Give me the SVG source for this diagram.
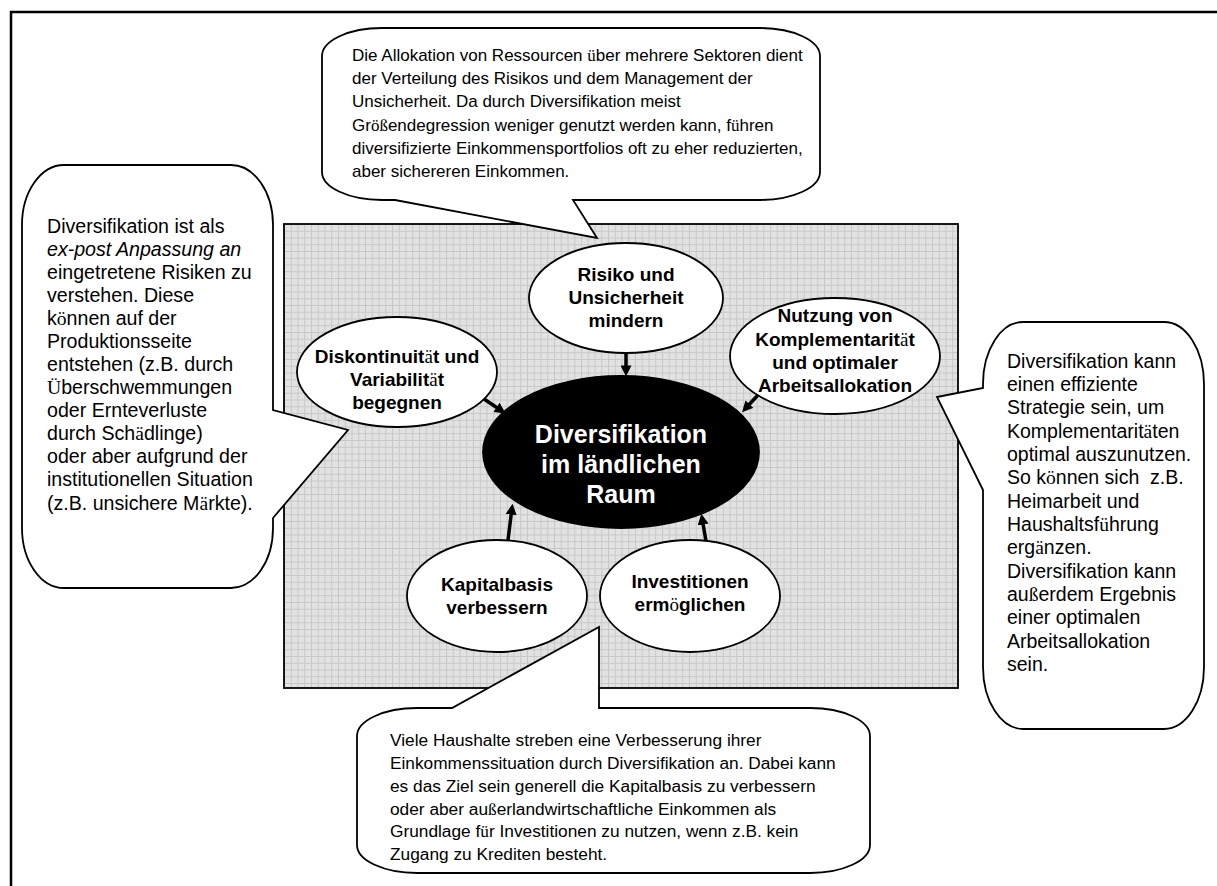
<svg xmlns="http://www.w3.org/2000/svg" width="1217" height="886" viewBox="0 0 1217 886">
<style>
.frame{fill:none;stroke:#000;stroke-width:2.5}
.callout{fill:#fff;stroke:#000;stroke-width:1.8}
.node{fill:#fff;stroke:#000;stroke-width:1.8}
.t{font-family:"Liberation Sans",Arial,sans-serif;fill:#000}
.lbl{font-family:"Liberation Sans",Arial,sans-serif;font-weight:bold;font-size:19px;text-anchor:middle;fill:#000}
.title{font-family:"Liberation Sans",Arial,sans-serif;font-weight:bold;font-size:25px;text-anchor:middle;fill:#fff}
.u{font-family:"Liberation Serif","Times New Roman",serif;font-weight:normal;font-style:normal}
.conn line{stroke:#000;stroke-width:3.5;marker-end:url(#ah)}
</style>
<defs>
<pattern id="grid" x="284" y="224" width="6.75" height="6.75" patternUnits="userSpaceOnUse">
<rect width="6.75" height="6.75" fill="#e2e2e2"/>
<path d="M0,0.5H6.75M0.5,0V6.75" stroke="#c8c8c8" stroke-width="1" fill="none"/>
</pattern>
<marker id="ah" viewBox="0 0 10 10" refX="6" refY="5" markerWidth="11" markerHeight="11" markerUnits="userSpaceOnUse" orient="auto">
<path d="M0,0L10,5L0,10z" fill="#000"/>
</marker>
</defs>
<rect width="1217" height="886" fill="#fff"/>
<path class="frame" d="M11,886V12H1217"/>
<g id="panel"><rect x="284" y="224" width="674" height="464" fill="url(#grid)" stroke="#000" stroke-width="1.8"/></g>

<g id="callout-top">
<path class="callout" d="M382,28H760A60,28 0 0 1 820,56V172A60,28 0 0 1 760,200H573L597,238L395,200H382A60,28 0 0 1 322,172V56A60,28 0 0 1 382,28Z"/>
<text class="t" font-size="17">
<tspan x="352" y="61">Die Allokation von Ressourcen <tspan class="u">ü</tspan>ber mehrere Sektoren dient</tspan>
<tspan x="352" y="84">der Verteilung des Risikos und dem Management der</tspan>
<tspan x="352" y="107">Unsicherheit. Da durch Diversifikation meist</tspan>
<tspan x="352" y="131">Gr<tspan class="u">öß</tspan>endegression weniger genutzt werden kann, f<tspan class="u">ü</tspan>hren</tspan>
<tspan x="352" y="154">diversifizierte Einkommensportfolios oft zu eher reduzierten,</tspan>
<tspan x="352" y="177">aber sichereren Einkommen.</tspan>
</text>
</g>

<g id="callout-left">
<path class="callout" d="M64,165H231A42,60 0 0 1 273,225V410L348,430L273,518V528A42,60 0 0 1 231,588H64A42,60 0 0 1 22,528V225A42,60 0 0 1 64,165Z"/>
<text class="t" font-size="19.6">
<tspan x="47" y="233">Diversifikation ist als</tspan>
<tspan x="47" y="256" font-style="italic">ex-post Anpassung an</tspan>
<tspan x="47" y="279">eingetretene Risiken zu</tspan>
<tspan x="47" y="302">verstehen. Diese</tspan>
<tspan x="47" y="325">k<tspan class="u">ö</tspan>nnen auf der</tspan>
<tspan x="47" y="348">Produktionsseite</tspan>
<tspan x="47" y="371">entstehen (z.B. durch</tspan>
<tspan x="47" y="394"><tspan class="u">Ü</tspan>berschwemmungen</tspan>
<tspan x="47" y="417">oder Ernteverluste</tspan>
<tspan x="47" y="440">durch Sch<tspan class="u">ä</tspan>dlinge)</tspan>
<tspan x="47" y="463">oder aber aufgrund der</tspan>
<tspan x="47" y="486">institutionellen Situation</tspan>
<tspan x="47" y="510">(z.B. unsichere M<tspan class="u">ä</tspan>rkte).</tspan>
</text>
</g>

<g id="callout-right">
<path class="callout" d="M1023,322H1164A40,62 0 0 1 1204,384V667A40,62 0 0 1 1164,729H1023A40,62 0 0 1 983,667V490L937,397L983,388V384A40,62 0 0 1 1023,322Z"/>
<text class="t" font-size="19.5" style="white-space:pre">
<tspan x="1007" y="368">Diversifikation kann</tspan>
<tspan x="1007" y="391">einen effiziente</tspan>
<tspan x="1007" y="414">Strategie sein, um</tspan>
<tspan x="1007" y="438">Komplementarit<tspan class="u">ä</tspan>ten</tspan>
<tspan x="1007" y="461">optimal auszunutzen.</tspan>
<tspan x="1007" y="484">So k<tspan class="u">ö</tspan>nnen sich  z.B.</tspan>
<tspan x="1007" y="508">Heimarbeit und</tspan>
<tspan x="1007" y="531">Haushaltsf<tspan class="u">ü</tspan>hrung</tspan>
<tspan x="1007" y="554">erg<tspan class="u">ä</tspan>nzen.</tspan>
<tspan x="1007" y="578">Diversifikation kann</tspan>
<tspan x="1007" y="601">au<tspan class="u">ß</tspan>erdem Ergebnis</tspan>
<tspan x="1007" y="624">einer optimalen</tspan>
<tspan x="1007" y="648">Arbeitsallokation</tspan>
<tspan x="1007" y="671">sein.</tspan>
</text>
</g>

<g id="callout-bottom">
<path class="callout" d="M357,736A60,28 0 0 1 417,708H452L599,627V708H810A60,28 0 0 1 870,736V845A60,28 0 0 1 810,873H417A60,28 0 0 1 357,845Z"/>
<text class="t" font-size="17.3">
<tspan x="390" y="746">Viele Haushalte streben eine Verbesserung ihrer</tspan>
<tspan x="390" y="769">Einkommenssituation durch Diversifikation an. Dabei kann</tspan>
<tspan x="390" y="792">es das Ziel sein generell die Kapitalbasis zu verbessern</tspan>
<tspan x="390" y="815">oder aber au<tspan class="u">ß</tspan>erlandwirtschaftliche Einkommen als</tspan>
<tspan x="390" y="837">Grundlage f<tspan class="u">ü</tspan>r Investitionen zu nutzen, wenn z.B. kein</tspan>
<tspan x="390" y="860">Zugang zu Krediten besteht.</tspan>
</text>
</g>

<g id="node-risiko">
<ellipse class="node" cx="626" cy="298" rx="97" ry="55"/>
<text class="lbl"><tspan x="626" y="281">Risiko und</tspan><tspan x="626" y="304">Unsicherheit</tspan><tspan x="626" y="327">mindern</tspan></text>
</g>
<g id="node-diskontinuitaet">
<ellipse class="node" cx="397" cy="372" rx="100" ry="55"/>
<text class="lbl"><tspan x="397" y="363">Diskontinuit<tspan class="u">ä</tspan>t und</tspan><tspan x="397" y="386">Variabilit<tspan class="u">ä</tspan>t</tspan><tspan x="397" y="409">begegnen</tspan></text>
</g>
<g id="node-nutzung">
<ellipse class="node" cx="835" cy="356" rx="105" ry="58"/>
<text class="lbl"><tspan x="835" y="322">Nutzung von</tspan><tspan x="835" y="346">Komplementarit<tspan class="u">ä</tspan>t</tspan><tspan x="835" y="369">und optimaler</tspan><tspan x="835" y="392">Arbeitsallokation</tspan></text>
</g>
<g id="node-center">
<ellipse cx="621" cy="452" rx="138" ry="76" fill="#000" stroke="#000" stroke-width="1.8"/>
<text class="title"><tspan x="621" y="443">Diversifikation</tspan><tspan x="621" y="473">im ländlichen</tspan><tspan x="621" y="503">Raum</tspan></text>
</g>
<g id="node-kapital">
<ellipse class="node" cx="497" cy="596" rx="90" ry="56"/>
<text class="lbl"><tspan x="497" y="591">Kapitalbasis</tspan><tspan x="497" y="614">verbessern</tspan></text>
</g>
<g id="node-invest">
<ellipse class="node" cx="690" cy="596" rx="90" ry="56"/>
<text class="lbl"><tspan x="690" y="588">Investitionen</tspan><tspan x="690" y="611">erm<tspan class="u">ö</tspan>glichen</tspan></text>
</g>

<g id="connectors" class="conn">
<line x1="626" y1="353" x2="626" y2="372"/>
<line x1="484" y1="399" x2="502" y2="411"/>
<line x1="758" y1="395" x2="745" y2="409"/>
<line x1="508" y1="540" x2="512" y2="508"/>
<line x1="706" y1="541" x2="702" y2="518"/>
</g>
</svg>
